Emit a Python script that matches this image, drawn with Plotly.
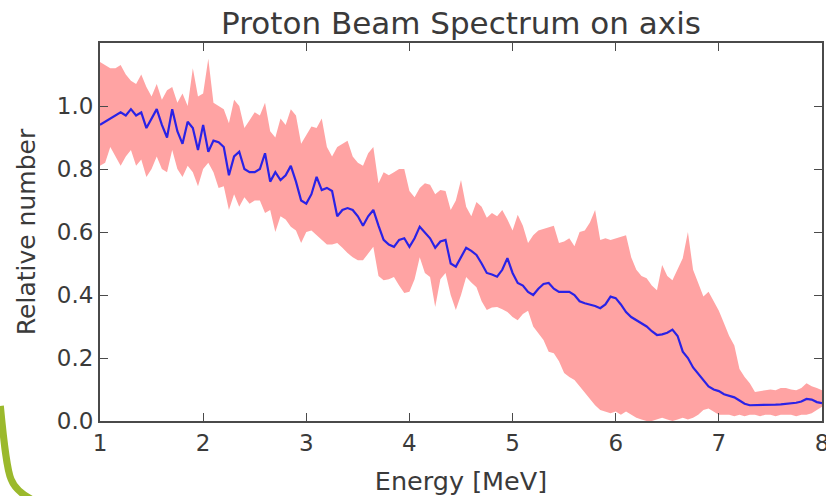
import plotly.graph_objects as go

energy = [round(1.0 + 0.05 * i, 2) for i in range(141)]

mean_vals = [
    0.94, 0.95, 0.96, 0.97, 0.98, 0.97, 0.99, 0.97, 0.98, 0.93,
    0.96, 0.99, 0.94, 0.90, 0.99, 0.92, 0.88, 0.95, 0.93, 0.86,
    0.94, 0.855, 0.89, 0.885, 0.87, 0.78, 0.84, 0.855, 0.80, 0.79,
    0.79, 0.80, 0.85, 0.76, 0.79, 0.765, 0.78, 0.81, 0.76, 0.70,
    0.69, 0.72, 0.775, 0.733, 0.74, 0.73, 0.65, 0.67, 0.676, 0.67,
    0.65, 0.62, 0.65, 0.67, 0.62, 0.575, 0.56, 0.553, 0.575, 0.58,
    0.553, 0.58, 0.617, 0.60, 0.58, 0.55, 0.57, 0.575, 0.50, 0.49,
    0.52, 0.55, 0.54, 0.527, 0.50, 0.47, 0.465, 0.458, 0.48, 0.517,
    0.47, 0.438, 0.43, 0.41, 0.40, 0.42, 0.435, 0.438, 0.42, 0.41,
    0.41, 0.41, 0.40, 0.38, 0.374, 0.37, 0.365, 0.358, 0.37, 0.395,
    0.39, 0.37, 0.346, 0.33, 0.32, 0.31, 0.30, 0.285, 0.273, 0.275,
    0.28, 0.29, 0.27, 0.22, 0.20, 0.17, 0.15, 0.13, 0.11, 0.10,
    0.095, 0.085, 0.08, 0.075, 0.065, 0.055, 0.05, 0.05, 0.05, 0.05,
    0.052, 0.052, 0.053, 0.054, 0.055, 0.058, 0.062, 0.07, 0.068, 0.06,
    0.057,
]

upper_vals = [
    1.14, 1.13, 1.12, 1.12, 1.13, 1.10, 1.08, 1.07, 1.10, 1.06,
    1.03, 1.07, 1.02, 1.05, 1.06, 1.01, 1.04, 1.00, 1.12, 1.03,
    1.04, 1.15, 1.01, 1.00, 0.99, 0.945, 1.02, 1.00, 0.93, 0.955,
    0.98, 0.97, 1.01, 0.92, 0.90, 0.96, 0.94, 0.99, 0.97, 0.88,
    0.91, 0.935, 0.93, 0.96, 0.87, 0.84, 0.87, 0.88, 0.89, 0.84,
    0.82, 0.81, 0.85, 0.87, 0.755, 0.79, 0.78, 0.79, 0.80, 0.80,
    0.73, 0.71, 0.74, 0.755, 0.75, 0.72, 0.733, 0.73, 0.67, 0.70,
    0.765, 0.68, 0.65, 0.695, 0.68, 0.645, 0.66, 0.65, 0.67, 0.64,
    0.605, 0.655, 0.62, 0.565, 0.59, 0.605, 0.61, 0.617, 0.62, 0.565,
    0.57, 0.58, 0.555, 0.60, 0.605, 0.63, 0.67, 0.575, 0.58, 0.575,
    0.58, 0.585, 0.59, 0.52, 0.48, 0.46, 0.453, 0.43, 0.415, 0.495,
    0.46, 0.447, 0.48, 0.517, 0.60, 0.48, 0.438, 0.395, 0.41, 0.38,
    0.35, 0.31, 0.27, 0.24, 0.165, 0.14, 0.12, 0.092, 0.095, 0.098,
    0.10, 0.098, 0.105, 0.105, 0.10, 0.098, 0.105, 0.12, 0.11, 0.105,
    0.098,
]

lower_vals = [
    0.81, 0.82, 0.87, 0.84, 0.81, 0.84, 0.86, 0.81, 0.83, 0.775,
    0.80, 0.84, 0.80, 0.79, 0.86, 0.80, 0.775, 0.81, 0.79, 0.745,
    0.80, 0.82, 0.79, 0.74, 0.745, 0.67, 0.72, 0.68, 0.71, 0.69,
    0.70, 0.70, 0.66, 0.67, 0.60, 0.65, 0.64, 0.617, 0.605, 0.565,
    0.60, 0.605, 0.59, 0.575, 0.56, 0.56, 0.565, 0.55, 0.533, 0.52,
    0.51, 0.51, 0.53, 0.553, 0.46, 0.447, 0.45, 0.457, 0.43, 0.406,
    0.41, 0.45, 0.52, 0.47, 0.457, 0.362, 0.45, 0.47, 0.40, 0.352,
    0.40, 0.457, 0.44, 0.425, 0.38, 0.352, 0.36, 0.362, 0.355, 0.346,
    0.33, 0.32, 0.34, 0.35, 0.30, 0.28, 0.257, 0.22, 0.215, 0.19,
    0.152, 0.14, 0.13, 0.11, 0.089, 0.07, 0.05, 0.035, 0.03, 0.025,
    0.03, 0.02, 0.03, 0.02, 0.01, 0.005, 0.0, 0.0, 0.005, 0.01,
    0.005, 0.0, 0.005, 0.01, 0.005, 0.01, 0.02, 0.035, 0.04, 0.03,
    0.02, 0.02, 0.02, 0.015, 0.02, 0.015, 0.02, 0.02, 0.015, 0.02,
    0.02, 0.015, 0.02, 0.02, 0.02, 0.015, 0.02, 0.02, 0.025, 0.035,
    0.045,
]

x_ticks = [1, 2, 3, 4, 5, 6, 7, 8]
y_ticks = [0.0, 0.2, 0.4, 0.6, 0.8, 1.0]

band_color = "#ffa3a3"
line_color = "#2a22e6"
text_color = "#3a3a3a"
axis_color = "#4a4a4a"
font_family = "DejaVu Sans"

fig = go.Figure()
fig.add_trace(go.Scatter(
    x=energy, y=lower_vals, mode="lines",
    line=dict(width=0, color=band_color),
    showlegend=False, hoverinfo="skip",
))
fig.add_trace(go.Scatter(
    x=energy, y=upper_vals, mode="lines",
    line=dict(width=0, color=band_color),
    fill="tonexty", fillcolor=band_color,
    showlegend=False, hoverinfo="skip",
))
fig.add_trace(go.Scatter(
    x=energy, y=mean_vals, mode="lines",
    line=dict(width=2.2, color=line_color),
    showlegend=False,
))

axis_common = dict(
    showgrid=False, zeroline=False, automargin=False,
    showline=True, linecolor=axis_color, linewidth=2,
    mirror="ticks", ticks="inside", ticklen=8, tickwidth=1.2,
    tickcolor=axis_color, ticklabeloverflow="allow",
    tickfont=dict(family=font_family, size=23, color=text_color),
)

fig.update_xaxes(
    range=[1, 8], tickvals=x_ticks, ticktext=[str(v) for v in x_ticks],
    title=dict(text="Energy [MeV]", standoff=18,
               font=dict(family=font_family, size=25.5, color=text_color)),
    **axis_common,
)
fig.update_yaxes(
    range=[0, 1.2], tickvals=y_ticks, ticktext=[f"{v:.1f}" for v in y_ticks],
    title=dict(text="Relative number", standoff=14,
               font=dict(family=font_family, size=25, color=text_color)),
    **axis_common,
)

fig.add_shape(
    type="path", xref="paper", yref="paper",
    path="M -0.138,0.04 C -0.133,-0.06 -0.129,-0.13 -0.123,-0.155 C -0.118,-0.18 -0.108,-0.195 -0.092,-0.21",
    line=dict(color="#9bb92c", width=7),
    layer="above",
)

fig.update_layout(
    width=826, height=496,
    margin=dict(l=100, r=4, t=43, b=75),
    paper_bgcolor="white", plot_bgcolor="white",
    title=dict(text="Proton Beam Spectrum on axis", x=461 / 826,
               xanchor="center", y=1 - 23 / 496, yanchor="middle", yref="container",
               font=dict(family=font_family, size=31, color=text_color)),
    font=dict(family=font_family, color=text_color),
)

fig.write_html("out.html")
